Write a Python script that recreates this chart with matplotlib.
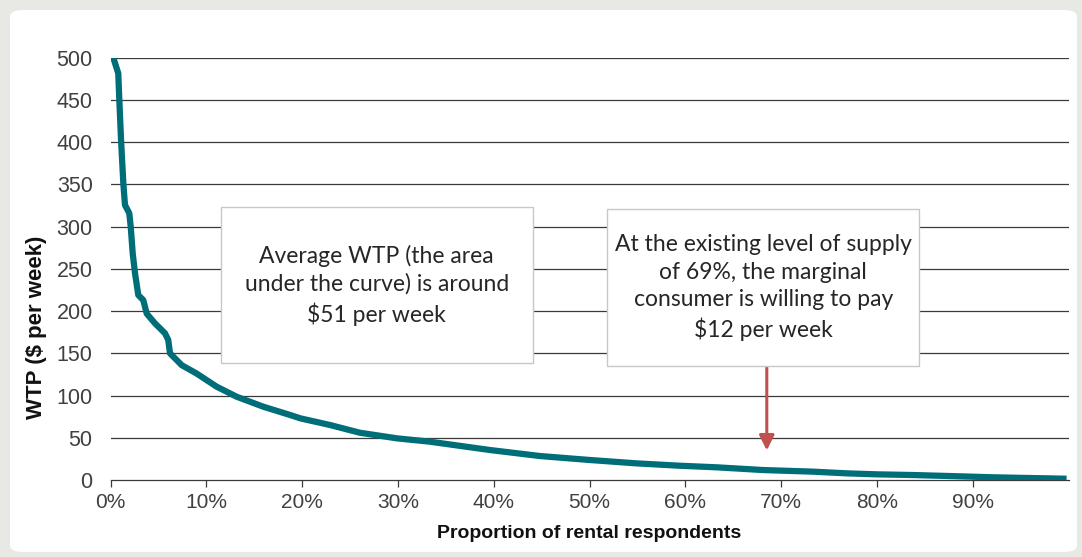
import matplotlib
matplotlib.use("Agg")
import matplotlib.pyplot as plt
from matplotlib.patches import FancyBboxPatch
from matplotlib.ticker import FuncFormatter

# Data (proportion of rental respondents, WTP $/week)
share = [0.0027, 0.0079, 0.009, 0.0108, 0.0132, 0.0149, 0.0194, 0.0209, 0.023,
         0.0254, 0.0288, 0.034, 0.0376, 0.0462, 0.0567, 0.0601, 0.0619, 0.0741,
         0.0898, 0.1106, 0.1315, 0.1593, 0.1872, 0.198, 0.229, 0.260, 0.299,
         0.333, 0.396, 0.448, 0.500, 0.549, 0.594, 0.633, 0.681, 0.733, 0.768,
         0.800, 0.837, 0.876, 0.921, 0.998]
wtp = [500, 481.5, 450, 402.6, 351, 325.6, 315.8, 300, 268,
       244.7, 219, 213, 197, 185.5, 173.7, 165.8, 150, 136,
       126, 110.5, 98.6, 86.8, 77, 73, 65.1, 56, 49.3,
       45.4, 35.5, 28.4, 23.7, 19.7, 16.9, 15, 11.8, 9.9, 7.9,
       6.7, 5.9, 4.7, 3.2, 1.5]

x_ticks = [0.0, 0.1, 0.2, 0.3, 0.4, 0.5, 0.6, 0.7, 0.8, 0.9]
y_ticks = [0, 50, 100, 150, 200, 250, 300, 350, 400, 450, 500]

note_avg = "Average WTP (the area\nunder the curve) is around\n$51 per week"
note_marg = "At the existing level of supply\nof 69%, the marginal\nconsumer is willing to pay\n$12 per week"
arrow_x = 0.685
arrow_tip = 35

W, H = 1082, 557
fig = plt.figure(figsize=(W / 100, H / 100), dpi=100)
fig.patch.set_facecolor("#e8e8e4")
panel = FancyBboxPatch((10 / W, 5 / H), (1077 - 10) / W, (552 - 10) / H,
                       boxstyle="round,pad=0,rounding_size=0.012",
                       transform=fig.transFigure, facecolor="white",
                       edgecolor="none", zorder=-5)
fig.patches.append(panel)

ax = fig.add_axes([110.7 / W, 1 - 480 / H, (1068.5 - 110.7) / W, (480 - 57.7) / H])
ax.set_zorder(1)
ax.set_facecolor("none")
ax.set_xlim(0, 1.0)
ax.set_ylim(0, 500)

for v in y_ticks[1:]:
    ax.axhline(v, color="#3a3a3a", lw=0.9, zorder=1)

ax.plot(share, wtp, color="#006e78", lw=4.5, solid_capstyle="butt",
        solid_joinstyle="round", zorder=3)

for s in ["top", "right", "left"]:
    ax.spines[s].set_visible(False)
ax.spines["bottom"].set_color("#3a3a3a")
ax.spines["bottom"].set_linewidth(0.9)
ax.spines["bottom"].set_zorder(2)

ax.set_xticks(x_ticks)
ax.xaxis.set_major_formatter(FuncFormatter(lambda v, p: f"{v * 100:.0f}%"))
ax.set_yticks(y_ticks)
ax.tick_params(axis="x", direction="out", length=5, width=0.9, color="#3a3a3a",
               labelsize=15, labelcolor="#404040", pad=4)
ax.tick_params(axis="y", length=0, labelsize=15.5, labelcolor="#404040", pad=13)
for lab in ax.get_xticklabels() + ax.get_yticklabels():
    lab.set_family("Liberation Sans")

ax.set_xlabel("Proportion of rental respondents", fontsize=14, fontweight="bold",
              family="Liberation Sans", color="#111111")
ax.xaxis.set_label_coords(0.5, -0.107)
ax.set_ylabel("WTP ($ per week)", fontsize=16, fontweight="bold",
              family="Liberation Sans", color="#111111")
ax.yaxis.set_label_coords(-0.067, 0.362)

# arrow from the bottom of the second note down towards the curve
y_box_bottom = 500 * (480 - 365.7) / (480 - 57.7)
ax.annotate("", xy=(arrow_x, arrow_tip), xytext=(arrow_x, y_box_bottom),
            arrowprops=dict(arrowstyle="-|>,head_length=0.9,head_width=0.45",
                            color="#c0504d", lw=2.2, shrinkA=0, shrinkB=0),
            zorder=4)

# annotation boxes (figure pixel coordinates)
def box(x0, y0, x1, y1, text):
    r = plt.Rectangle((x0 / W, 1 - y1 / H), (x1 - x0) / W, (y1 - y0) / H,
                      transform=fig.transFigure, facecolor="white",
                      edgecolor="#c8c8c8", lw=1.0, zorder=5)
    fig.patches.append(r)
    fig.text((x0 + x1) / 2 / W, 1 - (y0 + y1) / 2 / H, text, ha="center",
             va="center", fontsize=16.5, family="Lato", color="#262626",
             linespacing=1.38, zorder=6)

box(220.7, 206.7, 532.7, 363.3, note_avg)
box(607.3, 209.3, 919.3, 365.7, note_marg)

fig.savefig("out.png", dpi=100, facecolor=fig.get_facecolor())
